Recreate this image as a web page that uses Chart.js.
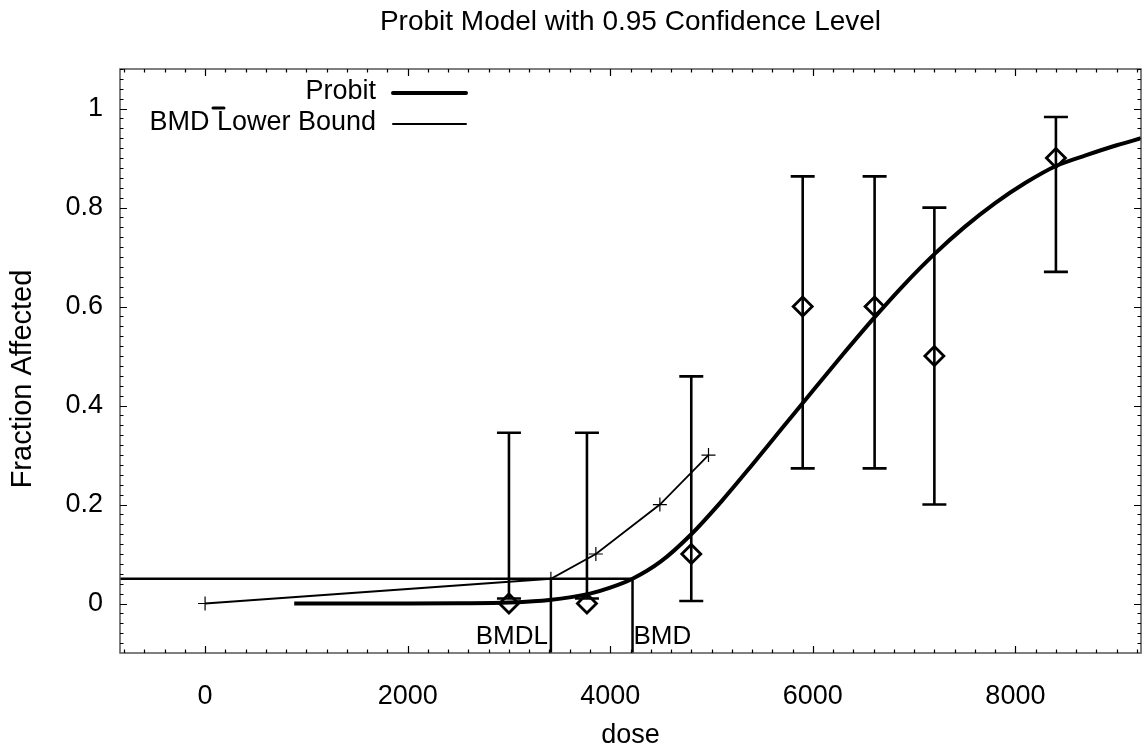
<!DOCTYPE html>
<html>
<head>
<meta charset="utf-8">
<script src="https://cdn.jsdelivr.net/npm/chart.js@4.4.0/dist/chart.umd.min.js"></script>
<style>
  html, body { margin: 0; padding: 0; background: #fff; overflow: hidden; }
  canvas { display: block; }
</style>
</head>
<body>
<canvas id="myChart" width="1144" height="750"></canvas>
<script>
// observed dose groups (diamonds + confidence bars)
var doses = [3000, 3770, 4800, 5900, 6610, 7200, 8400];
var fractions = [0, 0, 0.1, 0.6, 0.6, 0.5, 0.9];
var lowerCI = [0.01, 0.01, 0.005, 0.273, 0.273, 0.2, 0.67];
var upperCI = [0.345, 0.345, 0.459, 0.863, 0.863, 0.8, 0.983];

// fitted probit curve
var probitDose = [880, 1500, 2000, 2500, 3000, 3400, 3800, 4000, 4220, 4500, 4800, 5100, 5400, 5700, 6000, 6300, 6600, 6900, 7200, 7500, 7800, 8100, 8400, 8700, 9000, 9240];
var probitFrac = [0, 0, 0, 0.0005, 0.002, 0.007, 0.02, 0.032, 0.05, 0.085, 0.14, 0.207, 0.28, 0.355, 0.43, 0.504, 0.576, 0.644, 0.706, 0.761, 0.809, 0.85, 0.884, 0.906, 0.926, 0.94];

// BMD lower bound line
var bmdlDose = [0, 3414, 3858, 4490, 4970];
var bmdlFrac = [0, 0.05, 0.1, 0.2, 0.3];

var bmr = 0.05;
var bmd = 4220;
var bmdl = 3414;

var xTicks = [0, 2000, 4000, 6000, 8000];
var yTicks = [0, 0.2, 0.4, 0.6, 0.8, 1];
var xMin = -840, xMax = 9240, yMin = -0.1, yMax = 1.08;

var FONT = '"Liberation Sans", Arial, sans-serif';

function pts(xs, ys) {
    return xs.map(function (x, i) { return { x: x, y: ys[i] }; });
}

// border, inward ticks, error bars, legend and texts
var framePlugin = {
    id: 'frame',
    afterDatasetsDraw: function (chart) {
        var ctx = chart.ctx;
        var a = chart.chartArea;
        var sx = chart.scales.x, sy = chart.scales.y;
        ctx.save();

        // error bars
        ctx.strokeStyle = '#000';
        ctx.lineWidth = 2.6;
        doses.forEach(function (d, i) {
            var x = sx.getPixelForValue(d);
            var y1 = sy.getPixelForValue(lowerCI[i]);
            var y2 = sy.getPixelForValue(upperCI[i]);
            ctx.beginPath();
            ctx.moveTo(x, y1); ctx.lineTo(x, y2);
            ctx.moveTo(x - 12, y1); ctx.lineTo(x + 12, y1);
            ctx.moveTo(x - 12, y2); ctx.lineTo(x + 12, y2);
            ctx.stroke();
        });

        // frame
        ctx.strokeStyle = '#555';
        ctx.lineWidth = 1.5;
        ctx.strokeRect(a.left, a.top, a.right - a.left, a.bottom - a.top);

        // ticks pointing inward
        ctx.strokeStyle = '#000';
        ctx.lineWidth = 1.2;
        ctx.beginPath();
        for (var v = -800; v <= xMax; v += 200) {
            var x = Math.round(sx.getPixelForValue(v)) + 0.5;
            var len = (v % 2000 === 0) ? 7 : 3.5;
            ctx.moveTo(x, a.bottom); ctx.lineTo(x, a.bottom - len);
            ctx.moveTo(x, a.top); ctx.lineTo(x, a.top + len);
        }
        for (var k = -4; k <= 54; k++) {
            var yv = k * 0.02;
            var y = Math.round(sy.getPixelForValue(yv)) + 0.5;
            var ylen = (k % 10 === 0) ? 7 : 3.5;
            ctx.moveTo(a.left, y); ctx.lineTo(a.left + ylen, y);
            ctx.moveTo(a.right, y); ctx.lineTo(a.right - ylen, y);
        }
        ctx.stroke();

        // legend
        ctx.font = '27px ' + FONT;
        ctx.fillStyle = '#000';
        ctx.textAlign = 'right';
        ctx.textBaseline = 'middle';
        ctx.fillText(chart.data.datasets[0].label, 376, 92);
        ctx.fillText(chart.data.datasets[1].label, 376, 123);
        ctx.lineCap = 'round';
        ctx.lineWidth = 4;
        ctx.beginPath(); ctx.moveTo(393, 93); ctx.lineTo(466, 93); ctx.stroke();
        ctx.lineWidth = 2;
        ctx.beginPath(); ctx.moveTo(393, 124); ctx.lineTo(466, 124); ctx.stroke();
        ctx.lineWidth = 3;
        ctx.beginPath(); ctx.moveTo(213, 108); ctx.lineTo(224, 108); ctx.stroke();
        ctx.lineCap = 'butt';

        // BMDL / BMD labels
        ctx.font = '26px ' + FONT;
        ctx.textBaseline = 'middle';
        ctx.textAlign = 'right';
        ctx.fillText('BMDL', sx.getPixelForValue(bmdl) - 3, 637);
        ctx.textAlign = 'left';
        ctx.fillText('BMD', sx.getPixelForValue(bmd) + 1, 637);

        // title and axis titles
        var cx = (a.left + a.right) / 2;
        ctx.textAlign = 'center';
        ctx.font = '28px ' + FONT;
        ctx.fillText('Probit Model with 0.95 Confidence Level', cx, 22);
        ctx.font = '27px ' + FONT;
        ctx.fillText('dose', cx, 736);
        ctx.font = '29px ' + FONT;
        ctx.translate(23, (a.top + a.bottom) / 2 + 18);
        ctx.rotate(-Math.PI / 2);
        ctx.fillText('Fraction Affected', 0, 0);
        ctx.restore();
    }
};

var ctx = document.getElementById('myChart');
var myChart = new Chart(ctx, {
    type: 'scatter',
    data: {
        datasets: [{
            label: 'Probit',
            data: pts(probitDose, probitFrac),
            showLine: true,
            borderColor: '#000',
            borderWidth: 4,
            pointRadius: 0,
            cubicInterpolationMode: 'monotone'
        }, {
            label: 'BMD Lower Bound',
            data: pts(bmdlDose, bmdlFrac),
            showLine: true,
            borderColor: '#000',
            borderWidth: 1.8,
            tension: 0,
            pointStyle: 'cross',
            pointRadius: 7,
            pointBorderWidth: 1.2,
            pointBorderColor: '#000'
        }, {
            label: 'Data',
            data: pts(doses, fractions),
            pointStyle: 'rectRot',
            pointRadius: 9.5,
            pointBorderWidth: 2.8,
            pointBorderColor: '#000',
            pointBackgroundColor: 'rgba(0,0,0,0)'
        }, {
            label: 'BMR',
            data: [{ x: xMin, y: bmr }, { x: bmd, y: bmr }],
            showLine: true, borderColor: '#000', borderWidth: 2.5, pointRadius: 0
        }, {
            label: 'BMDL line',
            data: [{ x: bmdl, y: yMin }, { x: bmdl, y: bmr }],
            showLine: true, borderColor: '#000', borderWidth: 2.5, pointRadius: 0
        }, {
            label: 'BMD line',
            data: [{ x: bmd, y: yMin }, { x: bmd, y: bmr }],
            showLine: true, borderColor: '#000', borderWidth: 2.5, pointRadius: 0
        }]
    },
    options: {
        responsive: false,
        animation: false,
        devicePixelRatio: 1,
        layout: { autoPadding: false, padding: { top: 69, right: 3, left: 0, bottom: 0 } },
        plugins: { legend: { display: false }, tooltip: { enabled: false } },
        scales: {
            x: {
                type: 'linear', min: xMin, max: xMax,
                afterBuildTicks: function (s) { s.ticks = xTicks.map(function (v) { return { value: v }; }); },
                afterFit: function (s) { s.height = 97; s.paddingLeft = 0; s.paddingRight = 0; },
                grid: { display: false, drawTicks: false },
                border: { display: false },
                ticks: {
                    color: '#000', font: { family: FONT, size: 27 }, padding: 27, maxRotation: 0,
                    callback: function (v) { return String(v); }
                }
            },
            y: {
                type: 'linear', min: yMin, max: yMax,
                afterBuildTicks: function (s) { s.ticks = yTicks.map(function (v) { return { value: v }; }); },
                afterFit: function (s) { s.width = 120; s.paddingTop = 0; s.paddingBottom = 0; },
                grid: { display: false, drawTicks: false },
                border: { display: false },
                ticks: {
                    color: '#000', font: { family: FONT, size: 27 }, padding: 17,
                    callback: function (v) { return String(v); }
                }
            }
        }
    },
    plugins: [framePlugin]
});
</script>
</body>
</html>
